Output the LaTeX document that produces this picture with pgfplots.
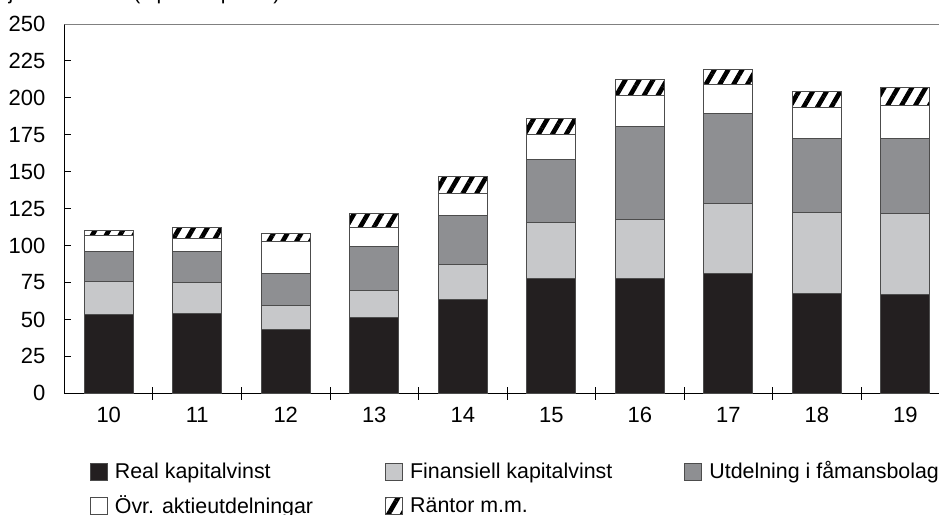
\documentclass[border=0pt]{standalone}
\usepackage{fontspec}
\setmainfont{Liberation Sans}
\usepackage{pgfplots}
\pgfplotsset{compat=1.18}
\usepackage{pgfplotstable}
\usetikzlibrary{patterns.meta}
\definecolor{cblack}{HTML}{231F20}
\definecolor{clight}{HTML}{C7C8CA}
\definecolor{cdark}{HTML}{8E8F92}
\pgfplotstableread{
x real fin utd ovr rant
0 53.5 22.1 20.5 10.4 3.4
1 54.2 20.9 20.6 9.2 7.5
2 42.9 16.7 21.6 21.4 5.7
3 51.2 18.7 29.8 12.7 9.5
4 63.2 24.3 33.2 14.7 11.2
5 77.4 38.1 42.9 16.5 11.3
6 77.9 39.9 62.7 20.8 11.3
7 81.2 47.4 61.0 19.6 9.7
8 67.7 54.8 50.1 21.0 10.6
9 67.2 54.7 50.7 21.9 12.4
}\data
\begin{document}
\begin{tikzpicture}
\begin{axis}[
  scale only axis, width=442.5pt, height=184.65pt,
  xmin=-0.5, xmax=9.5, ymin=0, ymax=250,
  ybar stacked, bar width=24.5pt,
  axis x line=bottom, axis y line=left,
  axis line style={-, black, line width=0.6pt},
  xtick={0,...,9}, xticklabels={10,11,12,13,14,15,16,17,18,19},
  major x tick style={draw=none},
  minor xtick={0.5,1.5,...,8.5},
  minor tick length=6.5pt, major tick length=3.5pt,
  xtick align=center, ytick align=inside,
  ytick={0,25,...,250},
  tick style={black, line width=0.5pt},
  /pgf/number format/assume math mode=true,
  tick label style={font=\fontsize{11}{13}\selectfont},
  yticklabel style={xshift=-6pt},
  xticklabel style={yshift=-1.5pt},
  legend columns=3, legend cell align=left,
  legend image code/.code={\draw[#1, line width=0.5pt] (0pt,-4.25pt) rectangle (8.5pt,4.25pt);},
  legend style={draw=none, fill=none, at={(0,0)}, anchor=north west,
    xshift=9.5pt, yshift=-30pt,
    font=\fontsize{10.7}{12.8}\selectfont, row sep=3pt,
    /tikz/every odd column/.append style={column sep=1.5pt},
    /tikz/every even column/.append style={column sep=34pt}},
]
\addplot[fill=cblack, draw=black!70, line width=0.5pt] table[x=x, y=real] {\data};
\addplot[fill=clight, draw=black!70, line width=0.5pt] table[x=x, y=fin] {\data};
\addplot[fill=cdark, draw=black!70, line width=0.5pt] table[x=x, y=utd] {\data};
\addplot[fill=white, draw=black!70, line width=0.5pt] table[x=x, y=ovr] {\data};
\addplot[fill=white, draw=black!70, line width=0.5pt, postaction={pattern={Lines[angle=60,distance=6pt,line width=2.3pt]}}] table[x=x, y=rant] {\data};
\legend{Real kapitalvinst, Finansiell kapitalvinst, Utdelning i fåmansbolag, Övr. aktieutdelningar, Räntor m.m.}
\draw[black!50, line width=0.6pt] (rel axis cs:0,1) -- (rel axis cs:1,1);
\end{axis}
\node[anchor=base west, font=\fontsize{10.5}{12.6}\selectfont, inner sep=0pt] at (-41.6pt,196.8pt) {Miljarder kronor (löpande priser)};
\pgfresetboundingbox
\path[use as bounding box] (-32.25pt,-60.85pt) rectangle (437.25pt,196.65pt);
\end{tikzpicture}
\end{document}
